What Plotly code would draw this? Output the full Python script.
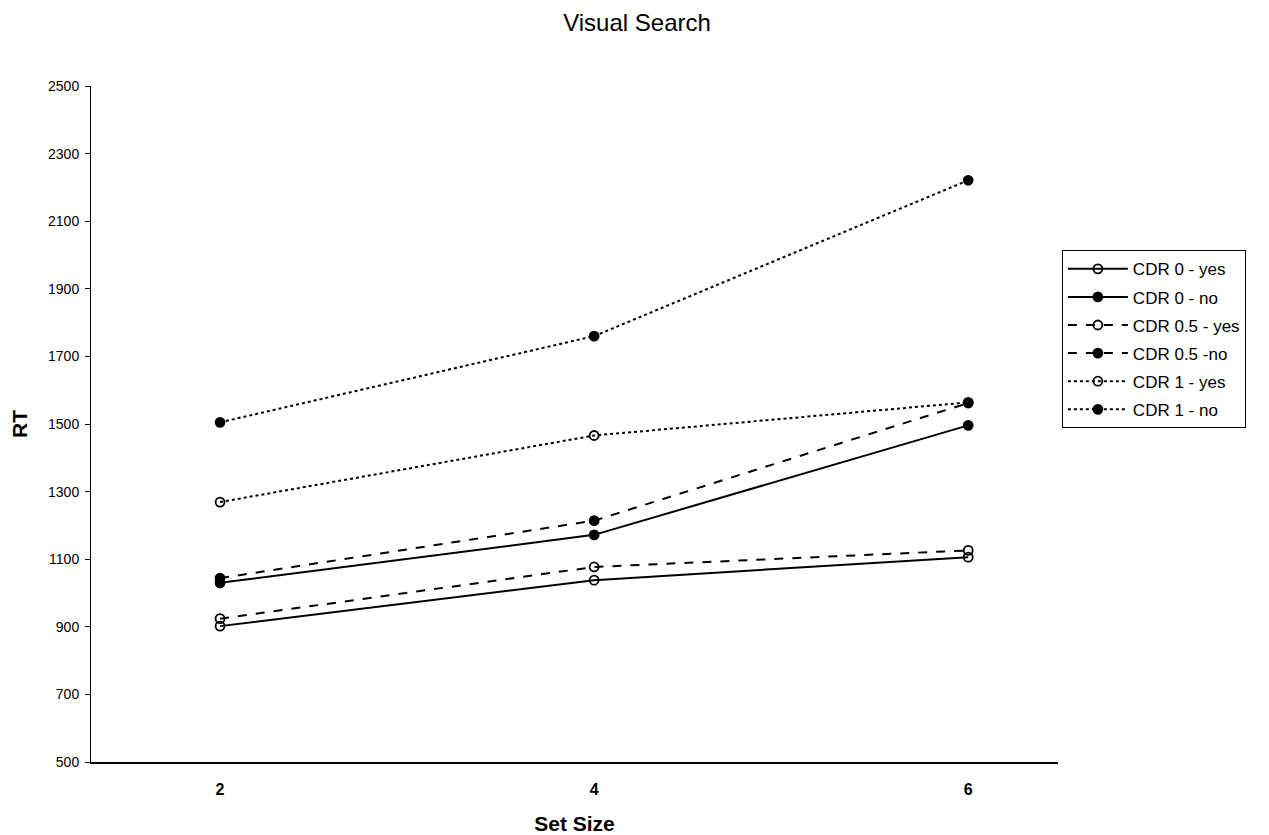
import plotly.graph_objects as go

set_size = [2, 4, 6]
series_names = ["CDR 0 - yes", "CDR 0 - no", "CDR 0.5 - yes", "CDR 0.5 -no", "CDR 1 - yes", "CDR 1 - no"]
cdr0_yes = [902, 1038, 1106]
cdr0_no = [1030, 1172, 1496]
cdr05_yes = [924, 1077, 1126]
cdr05_no = [1044, 1214, 1562]
cdr1_yes = [1269, 1466, 1564]
cdr1_no = [1505, 1760, 2221]
y_ticks = [500, 700, 900, 1100, 1300, 1500, 1700, 1900, 2100, 2300, 2500]

values = [cdr0_yes, cdr0_no, cdr05_yes, cdr05_no, cdr1_yes, cdr1_no]
dashes = ["solid", "solid", "dash", "dash", "dot", "dot"]
filled = [False, True, False, True, False, True]

W, H = 1261, 827
fig = go.Figure()
for i, (name, vals, d, f) in enumerate(zip(series_names, values, dashes, filled)):
    fig.add_trace(go.Scatter(
        x=set_size, y=vals, name=name, mode="lines+markers", legendgroup=f"g{i}",
        line=dict(color="black", width=2, dash=d),
        marker=dict(symbol="circle" if f else "circle-open", size=9,
                    color="black", line=dict(color="black", width=1.8)),
    ))

fig.update_layout(
    width=W, height=H,
    paper_bgcolor="white", plot_bgcolor="white",
    margin=dict(l=83, r=211, t=78, b=73, autoexpand=False),
    font=dict(family="Liberation Sans, Arial, sans-serif", color="black"),
    title=dict(text="Visual Search", x=629 / W, xanchor="center",
               y=1 - 15 / H, yanchor="middle", font=dict(size=24)),
    showlegend=True,
    legend=dict(x=1.004, y=0.757, xanchor="left", yanchor="top",
                bordercolor="black", borderwidth=1, bgcolor="white",
                font=dict(size=17), tracegroupgap=3, itemwidth=60),
)
fig.update_xaxes(
    range=[1.31, 6.48], tickvals=set_size, ticktext=[str(v) for v in set_size],
    showgrid=False, zeroline=False, showline=True, linecolor="black", linewidth=1.5,
    ticks="", ticklabelstandoff=12,
    tickfont=dict(size=16, family="Liberation Sans Narrow, Liberation Sans, Arial", weight="bold"),
    title=dict(text="<b>Set Size</b>", font=dict(size=21), standoff=20),
)
fig.update_yaxes(
    range=[500, 2500], tickvals=y_ticks, showgrid=False, zeroline=False,
    showline=True, linecolor="black", linewidth=1, ticks="outside", ticklen=5,
    tickcolor="black", tickfont=dict(size=14), ticklabelstandoff=3,
    title=dict(text="<b>RT</b>", font=dict(size=21), standoff=16),
)

fig.write_html("out.html")
